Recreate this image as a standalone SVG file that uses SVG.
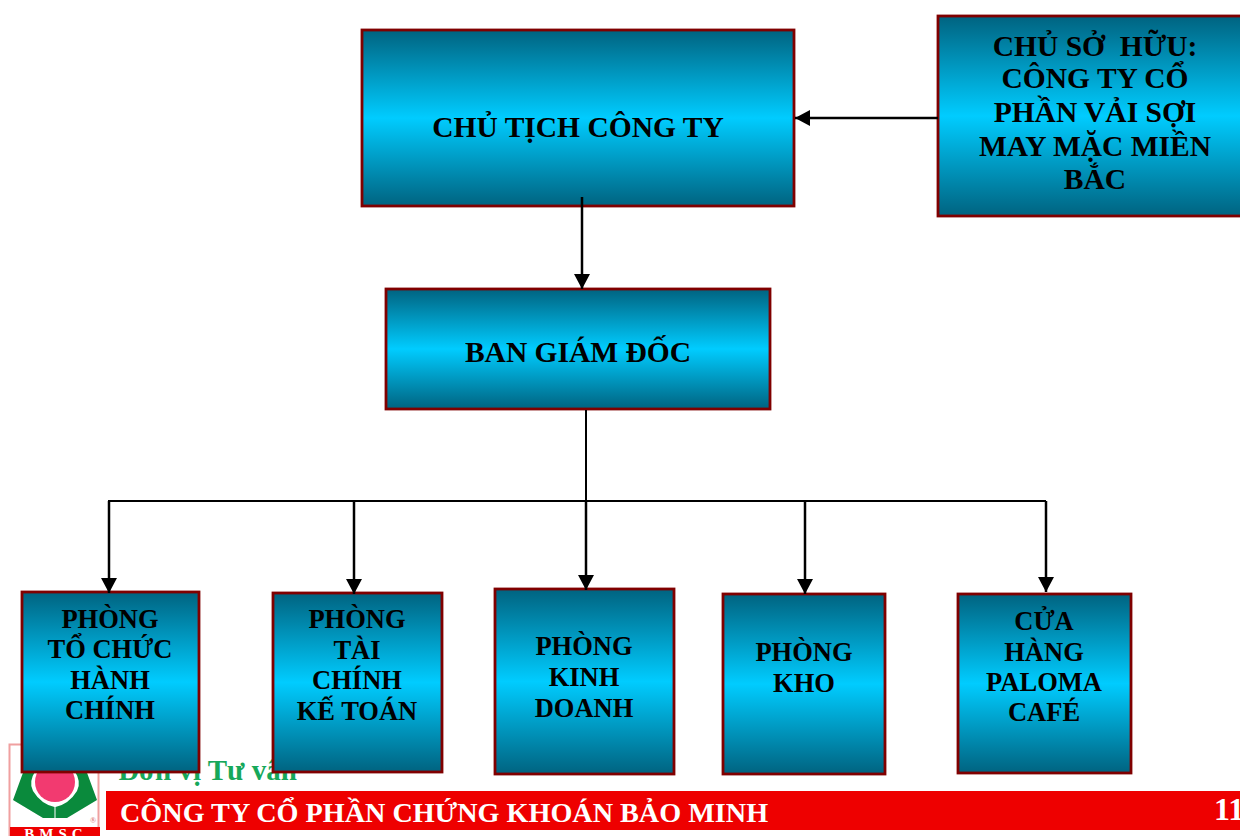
<svg xmlns="http://www.w3.org/2000/svg" width="1240" height="836" viewBox="0 0 1240 836">
<style>
.b{fill:url(#g);stroke:#800000;stroke-width:2.800}
.t{font-family:"Liberation Serif","Times New Roman",serif;font-weight:bold;font-size:29.500px;fill:#000;text-anchor:middle;white-space:pre}
.s{font-size:26.500px}
.f{font-family:"Liberation Serif","Times New Roman",serif;font-weight:bold}
.c{fill:none;stroke:#000;stroke-width:2.500}
.a{marker-end:url(#m)}
</style>
<defs>
<linearGradient id="g" x1="0" y1="0" x2="0" y2="1">
<stop offset="0" stop-color="#006380"/><stop offset="0.5" stop-color="#00ccff"/><stop offset="1" stop-color="#006380"/>
</linearGradient>
<marker id="m" markerUnits="userSpaceOnUse" markerWidth="16" markerHeight="16" refX="15" refY="8" orient="auto"><path d="M0 0L15 8L0 16Z" fill="#000"/></marker>
</defs>
<rect width="1240" height="836" fill="#fff"/>
<g id="footer">
<rect x="9.500" y="744.500" width="89" height="92" fill="#fff" stroke="#f0a0a0" stroke-width="2"/>
<circle cx="55" cy="782" r="20" fill="#f23a70"/>
<path d="M13 800L24 770H36Q28 782 33 791Q41 804 54.500 807V818H43Z M97 800L86 770H74Q82 782 77 791Q69 804 55.500 807V818H67Z" fill="#0a8a3c"/>
<text class="f" x="93" y="823" font-size="8" fill="#e08a8a" text-anchor="middle">®</text>
<rect x="10" y="827" width="90" height="9" fill="#ee0000"/>
<text class="f" x="56" y="839" font-size="15" letter-spacing="5" fill="#fff" text-anchor="middle">BMSC</text>
<text class="f" x="118" y="780" font-size="29" fill="#16a85a">Đơn vị Tư vấn</text>
<rect x="106" y="791" width="1134" height="39" fill="#ee0000"/>
<text class="f" x="120" y="822" font-size="28.200" fill="#fff">CÔNG TY CỔ PHẦN CHỨNG KHOÁN BẢO MINH</text>
<text class="f" x="1214" y="820" font-size="32" fill="#fff">11</text>
</g>
<g id="chu-tich"><rect class="b" x="362" y="30" width="432" height="176"/><text class="t" x="578" y="137">CHỦ TỊCH CÔNG TY</text></g>
<g id="chu-so-huu"><rect class="b" x="938" y="16" width="304" height="200"/>
<text class="t" x="1095" y="56">CHỦ SỞ  HỮU:</text><text class="t" x="1095" y="88">CÔNG TY CỔ</text><text class="t" x="1095" y="122">PHẦN VẢI SỢI</text><text class="t" x="1095" y="156">MAY MẶC MIỀN</text><text class="t" x="1095" y="189">BẮC</text></g>
<g id="ban-giam-doc"><rect class="b" x="386" y="289" width="384" height="120"/><text class="t" x="578" y="362">BAN GIÁM ĐỐC</text></g>
<g id="phong-tchc"><rect class="b" x="22" y="592" width="177" height="180"/>
<text class="t s" x="110" y="628">PHÒNG</text><text class="t s" x="110" y="658">TỔ CHỨC</text><text class="t s" x="110" y="689">HÀNH</text><text class="t s" x="110" y="719">CHÍNH</text></g>
<g id="phong-tckt"><rect class="b" x="273" y="593" width="169" height="179"/>
<text class="t s" x="357" y="628">PHÒNG</text><text class="t s" x="357" y="659">TÀI</text><text class="t s" x="357" y="689">CHÍNH</text><text class="t s" x="357" y="720">KẾ TOÁN</text></g>
<g id="phong-kd"><rect class="b" x="495" y="589" width="179" height="185"/>
<text class="t s" x="584" y="655">PHÒNG</text><text class="t s" x="584" y="686">KINH</text><text class="t s" x="584" y="717">DOANH</text></g>
<g id="phong-kho"><rect class="b" x="723" y="594" width="162" height="180"/>
<text class="t s" x="804" y="661">PHÒNG</text><text class="t s" x="804" y="692">KHO</text></g>
<g id="cua-hang"><rect class="b" x="958" y="594" width="173" height="179"/>
<text class="t s" x="1044" y="630">CỬA</text><text class="t s" x="1044" y="661">HÀNG</text><text class="t s" x="1044" y="691">PALOMA</text><text class="t s" x="1044" y="721">CAFÉ</text></g>
<g id="connectors">
<path class="c a" d="M938 118H795"/>
<path class="c a" d="M582 197V289"/>
<path class="c" d="M586 410V501" style="stroke-width:2"/>
<path class="c" d="M108 501H1046" style="stroke-width:2"/>
<path class="c a" d="M109 501V593"/>
<path class="c a" d="M354 501V594"/>
<path class="c a" d="M586 501V590"/>
<path class="c a" d="M805 501V594"/>
<path class="c a" d="M1046 501V592"/>
</g>
</svg>
